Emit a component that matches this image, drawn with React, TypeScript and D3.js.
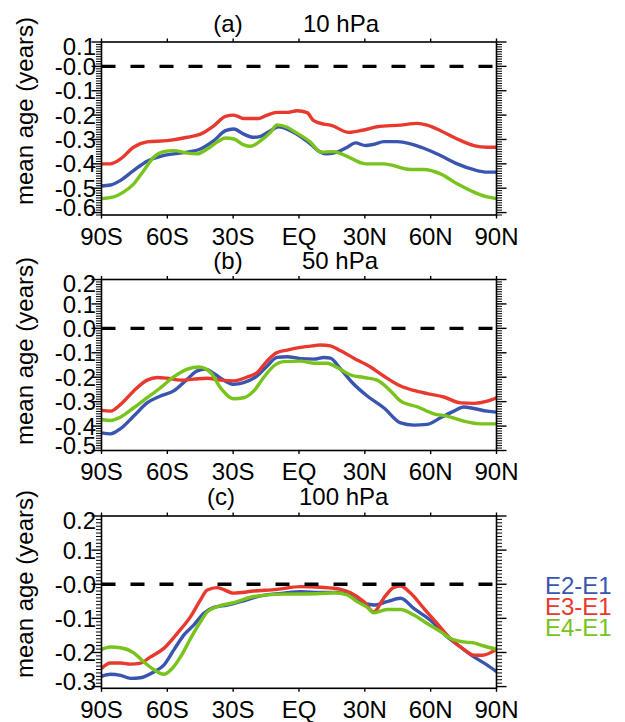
import React from "react";
import * as d3 from "d3";

// ---------- DATA ----------
const xTickLats = [-90, -60, -30, 0, 30, 60, 90];
const xTickLabels = ["90S", "60S", "30S", "EQ", "30N", "60N", "90N"];
const seriesNames = ["E2-E1", "E3-E1", "E4-E1"];
const seriesColors = ["#3a55b0", "#e8392e", "#78c31c"];

// Panel (a) 10 hPa
const aBlueLat = [-90, -85.9, -81.3, -75.3, -69.2, -63.1, -57.1, -50.9, -44.9, -38.8, -33.5, -29.7, -25.2, -20.6, -17.5, -13, -9.2, -3.9, 0.7, 5.2, 9.8, 12.8, 17.4, 22, 25.7, 30.3, 34.1, 38.6, 44.7, 50.8, 56.9, 64.5, 72.1, 79.7, 85.8, 90];
const aBlueVal = [-0.491, -0.487, -0.468, -0.427, -0.389, -0.369, -0.359, -0.352, -0.339, -0.305, -0.264, -0.257, -0.278, -0.291, -0.287, -0.264, -0.248, -0.264, -0.288, -0.318, -0.352, -0.359, -0.352, -0.332, -0.314, -0.325, -0.32, -0.309, -0.309, -0.318, -0.336, -0.366, -0.4, -0.424, -0.434, -0.434];
const aRedLat = [-90, -86, -81.3, -75.4, -69.2, -60.1, -50.9, -44.9, -38.8, -33.5, -29.7, -25.2, -18.3, -14.5, -10, -5.4, -0.8, 3.7, 6.7, 11.3, 14.3, 22.7, 29.5, 35.6, 46.3, 53.9, 58.4, 64.5, 72.1, 79.7, 85.8, 90];
const aRedVal = [-0.4, -0.4, -0.38, -0.332, -0.31, -0.305, -0.291, -0.278, -0.244, -0.205, -0.2, -0.214, -0.214, -0.2, -0.189, -0.189, -0.182, -0.19, -0.223, -0.237, -0.241, -0.271, -0.261, -0.248, -0.241, -0.234, -0.241, -0.264, -0.298, -0.325, -0.332, -0.332];
const aGreenLat = [-90, -84.5, -80, -75.3, -70.7, -66.2, -61.6, -57.1, -50.9, -46.4, -41.8, -37.3, -33.5, -29.7, -25.2, -22.1, -17.5, -13, -10, -5.4, -0.8, 5.2, 9.8, 15.7, 20.4, 30.3, 38.6, 50.8, 56.9, 64.5, 72.1, 79.7, 85.8, 90];
const aGreenVal = [-0.543, -0.536, -0.516, -0.482, -0.427, -0.373, -0.35, -0.346, -0.356, -0.359, -0.339, -0.311, -0.294, -0.298, -0.322, -0.328, -0.305, -0.271, -0.24, -0.25, -0.275, -0.311, -0.352, -0.35, -0.363, -0.4, -0.4, -0.423, -0.423, -0.441, -0.482, -0.516, -0.536, -0.543];

// Panel (b) 50 hPa
const bBlueLat = [-90, -85.9, -81.3, -75.3, -69.2, -63.1, -57.1, -50.9, -46.4, -42.6, -38.8, -34.3, -29.7, -25.2, -19.1, -14.5, -10, -5.4, 0.7, 6.7, 11.3, 14.3, 19, 25, 31.1, 38.6, 46.3, 52.3, 58.4, 64.5, 70.6, 75.1, 79.7, 85.8, 90];
const bBlueVal = [-0.428, -0.432, -0.41, -0.359, -0.305, -0.277, -0.256, -0.208, -0.174, -0.167, -0.185, -0.212, -0.229, -0.222, -0.195, -0.154, -0.119, -0.116, -0.124, -0.126, -0.119, -0.122, -0.167, -0.229, -0.277, -0.325, -0.387, -0.396, -0.393, -0.366, -0.339, -0.322, -0.328, -0.339, -0.343];
const bRedLat = [-90, -85.9, -81.3, -75.3, -69.2, -64.6, -60.1, -54, -48, -41.8, -35.8, -29.7, -23.6, -19.1, -14.5, -10, -5.4, 0.7, 6.7, 9.8, 14.3, 19, 25, 32.6, 38.6, 46.3, 52.3, 58.4, 66, 73.6, 79.7, 85.8, 90];
const bRedVal = [-0.336, -0.339, -0.311, -0.256, -0.212, -0.201, -0.204, -0.212, -0.208, -0.204, -0.212, -0.215, -0.199, -0.181, -0.133, -0.099, -0.089, -0.078, -0.071, -0.068, -0.072, -0.092, -0.122, -0.158, -0.195, -0.236, -0.254, -0.267, -0.281, -0.305, -0.307, -0.298, -0.284];
const bGreenLat = [-90, -85.9, -81.3, -75.3, -69.2, -63.1, -57.1, -50.9, -45.6, -40.3, -35.8, -29.7, -25.2, -20.6, -16.1, -11.5, -7, 0.7, 6.7, 12.8, 17.4, 23.5, 29.5, 35.6, 41.7, 46.3, 53.9, 61.4, 67.5, 75.1, 82.7, 90];
const bGreenVal = [-0.373, -0.377, -0.363, -0.325, -0.284, -0.243, -0.199, -0.167, -0.158, -0.181, -0.243, -0.288, -0.284, -0.256, -0.201, -0.154, -0.136, -0.134, -0.143, -0.143, -0.16, -0.191, -0.201, -0.212, -0.256, -0.298, -0.321, -0.35, -0.359, -0.38, -0.391, -0.391];

// Panel (c) 100 hPa
const cBlueLat = [-90, -85.9, -81.3, -76.8, -72.2, -66.2, -61.6, -57.1, -52.5, -48, -43.4, -38.8, -32.7, -26.7, -17.5, -7, 0.7, 9.8, 17.4, 22.7, 27.2, 34.1, 40.1, 46.3, 52.3, 59.8, 67.5, 73.6, 79.7, 85.8, 90];
const cBlueVal = [-0.27, -0.264, -0.267, -0.276, -0.274, -0.257, -0.237, -0.193, -0.149, -0.12, -0.085, -0.068, -0.061, -0.051, -0.034, -0.026, -0.022, -0.024, -0.024, -0.031, -0.051, -0.061, -0.051, -0.041, -0.071, -0.105, -0.154, -0.184, -0.213, -0.237, -0.256];
const cRedLat = [-90, -85.9, -81.3, -76.8, -72.2, -67.7, -61.6, -55.5, -49.4, -44.9, -41.8, -37.3, -29.7, -20.6, -10, 0.7, 9.8, 19, 23.5, 29.5, 34.1, 38.6, 43.2, 46.3, 50.8, 56.9, 62.9, 69, 75.1, 79.7, 83.5, 90];
const cRedVal = [-0.247, -0.231, -0.231, -0.234, -0.231, -0.213, -0.188, -0.144, -0.095, -0.046, -0.017, -0.01, -0.026, -0.02, -0.015, -0.007, -0.009, -0.015, -0.025, -0.051, -0.081, -0.041, -0.009, -0.005, -0.026, -0.071, -0.115, -0.159, -0.191, -0.208, -0.208, -0.191];
const cGreenLat = [-90, -85.9, -81.3, -75.3, -70.7, -66.2, -61.6, -57.8, -54, -49.4, -44.9, -41.8, -37.3, -29.7, -20.6, -7, 8, 15.9, 22, 26.5, 31.1, 34.1, 40.1, 46.3, 52.3, 58.4, 64.5, 69, 75.1, 79.7, 84.3, 90];
const cGreenVal = [-0.191, -0.184, -0.186, -0.201, -0.228, -0.25, -0.264, -0.247, -0.213, -0.159, -0.11, -0.081, -0.066, -0.054, -0.036, -0.029, -0.028, -0.025, -0.031, -0.051, -0.068, -0.084, -0.074, -0.074, -0.09, -0.115, -0.139, -0.159, -0.169, -0.172, -0.181, -0.191];

const aYTicks = [0.1, 0, -0.1, -0.2, -0.3, -0.4, -0.5, -0.6];
const aYLabels = ["0.1", "-0.0", "-0.1", "-0.2", "-0.3", "-0.4", "-0.5", "-0.6"];
const bYTicks = [0.2, 0.1, 0, -0.1, -0.2, -0.3, -0.4, -0.5];
const bYLabels = ["0.2", "0.1", "0.0", "-0.1", "-0.2", "-0.3", "-0.4", "-0.5"];
const cYTicks = [0.2, 0.1, 0, -0.1, -0.2, -0.3];
const cYLabels = ["0.2", "0.1", "-0.0", "-0.1", "-0.2", "-0.3"];

// ---------- LAYOUT ----------
const W = 625;
const H = 722;
const X0 = 101.5;
const X1 = 496.5;
const FONT = "'Liberation Sans', Arial, Helvetica, sans-serif";

const panels = [
  {
    tag: "(a)", level: "10 hPa", top: 42, bottom: 215, domain: [-0.61, 0.1],
    ticks: aYTicks, labels: aYLabels, tagX: 228, levelX: 303, titleY: 32, ylabY: 111,
    series: [[aBlueLat, aBlueVal], [aRedLat, aRedVal], [aGreenLat, aGreenVal]],
  },
  {
    tag: "(b)", level: "50 hPa", top: 279.5, bottom: 450.5, domain: [-0.5, 0.2],
    ticks: bYTicks, labels: bYLabels, tagX: 228, levelX: 302, titleY: 269, ylabY: 351,
    series: [[bBlueLat, bBlueVal], [bRedLat, bRedVal], [bGreenLat, bGreenVal]],
  },
  {
    tag: "(c)", level: "100 hPa", top: 516, bottom: 688.3, domain: [-0.305, 0.2],
    ticks: cYTicks, labels: cYLabels, tagX: 221, levelX: 299, titleY: 505, ylabY: 584,
    series: [[cBlueLat, cBlueVal], [cRedLat, cRedVal], [cGreenLat, cGreenVal]],
  },
];

function Panel({ p }: { p: any }) {
  const x = d3.scaleLinear().domain([-90, 90]).range([X0, X1]);
  const y = d3.scaleLinear().domain(p.domain).range([p.bottom, p.top]);
  const lo = Math.ceil(p.domain[0] * 100 - 1e-6);
  const hi = Math.floor(p.domain[1] * 100 + 1e-6);
  const minor = d3.range(lo, hi + 1).filter((i) => i % 10 !== 0).map((i) => i / 100);
  const line = d3
    .line<[number, number]>()
    .x((d) => x(d[0]))
    .y((d) => y(d[1]))
    .curve(d3.curveMonotoneX);
  const n = p.ticks.length;
  return (
    <g>
      {/* curves */}
      {p.series.map((s: any, i: number) => {
        const pts: [number, number][] = s[0].map((lat: number, k: number) => [lat, s[1][k]]);
        return (
          <path key={i} d={line(pts) || ""} fill="none" stroke={seriesColors[i]} strokeWidth={3.4} strokeLinejoin="round" />
        );
      })}
      {/* zero line */}
      <line x1={x(-90)} x2={x(90)} y1={y(0)} y2={y(0)} stroke="#000" strokeWidth={3.4} strokeDasharray="14 15" />
      {/* frame */}
      <rect x={X0} y={p.top} width={X1 - X0} height={p.bottom - p.top} fill="none" stroke="#000" strokeWidth={1.6} />
      {/* minor y ticks */}
      {minor.map((v: number, i: number) => (
        <g key={"m" + i}>
          <line x1={X0 - 5.5} x2={X0} y1={y(v)} y2={y(v)} stroke="#000" strokeWidth={1} />
          <line x1={X1} x2={X1 + 5.5} y1={y(v)} y2={y(v)} stroke="#000" strokeWidth={1} />
        </g>
      ))}
      {/* major y ticks + labels */}
      {p.ticks.map((v: number, i: number) => {
        const nudge = i === 0 ? 4 : i === n - 1 ? -5 : 0;
        return (
          <g key={"t" + i}>
            <line x1={X0 - 10} x2={X0} y1={y(v)} y2={y(v)} stroke="#000" strokeWidth={1.4} />
            <line x1={X1} x2={X1 + 10} y1={y(v)} y2={y(v)} stroke="#000" strokeWidth={1.4} />
            <text x={96} y={y(v) + nudge} dy="0.36em" textAnchor="end" fontSize={24} fontFamily={FONT}>
              {p.labels[i]}
            </text>
          </g>
        );
      })}
      {/* x ticks */}
      {xTickLats.map((lat, i) => (
        <g key={"x" + i}>
          <line x1={x(lat)} x2={x(lat)} y1={p.top - 3.5} y2={p.top} stroke="#000" strokeWidth={1.4} />
          <line x1={x(lat)} x2={x(lat)} y1={p.bottom} y2={p.bottom + 3.5} stroke="#000" strokeWidth={1.4} />
          <text x={x(lat)} y={p.bottom + 29.5} textAnchor="middle" fontSize={24} fontFamily={FONT}>
            {xTickLabels[i]}
          </text>
        </g>
      ))}
      {/* title */}
      <text x={p.tagX} y={p.titleY} textAnchor="middle" fontSize={24} fontFamily={FONT}>{p.tag}</text>
      <text x={p.levelX} y={p.titleY} textAnchor="start" fontSize={24} fontFamily={FONT}>{p.level}</text>
      {/* y label */}
      <text transform={`translate(33,${p.ylabY}) rotate(-90)`} textAnchor="middle" fontSize={24} fontFamily={FONT}>
        mean age (years)
      </text>
    </g>
  );
}

export default function App() {
  const legendY = [594, 615, 636];
  return (
    <svg width={W} height={H} style={{ position: "absolute", left: 0, top: 0, background: "#fff" }}>
      <rect width={W} height={H} fill="#fff" />
      {panels.map((p, i) => (
        <Panel key={i} p={p} />
      ))}
      {seriesNames.map((s, i) => (
        <text key={s} x={545} y={legendY[i]} fontSize={24} fontFamily={FONT} fill={seriesColors[i]}>
          {s}
        </text>
      ))}
    </svg>
  );
}
